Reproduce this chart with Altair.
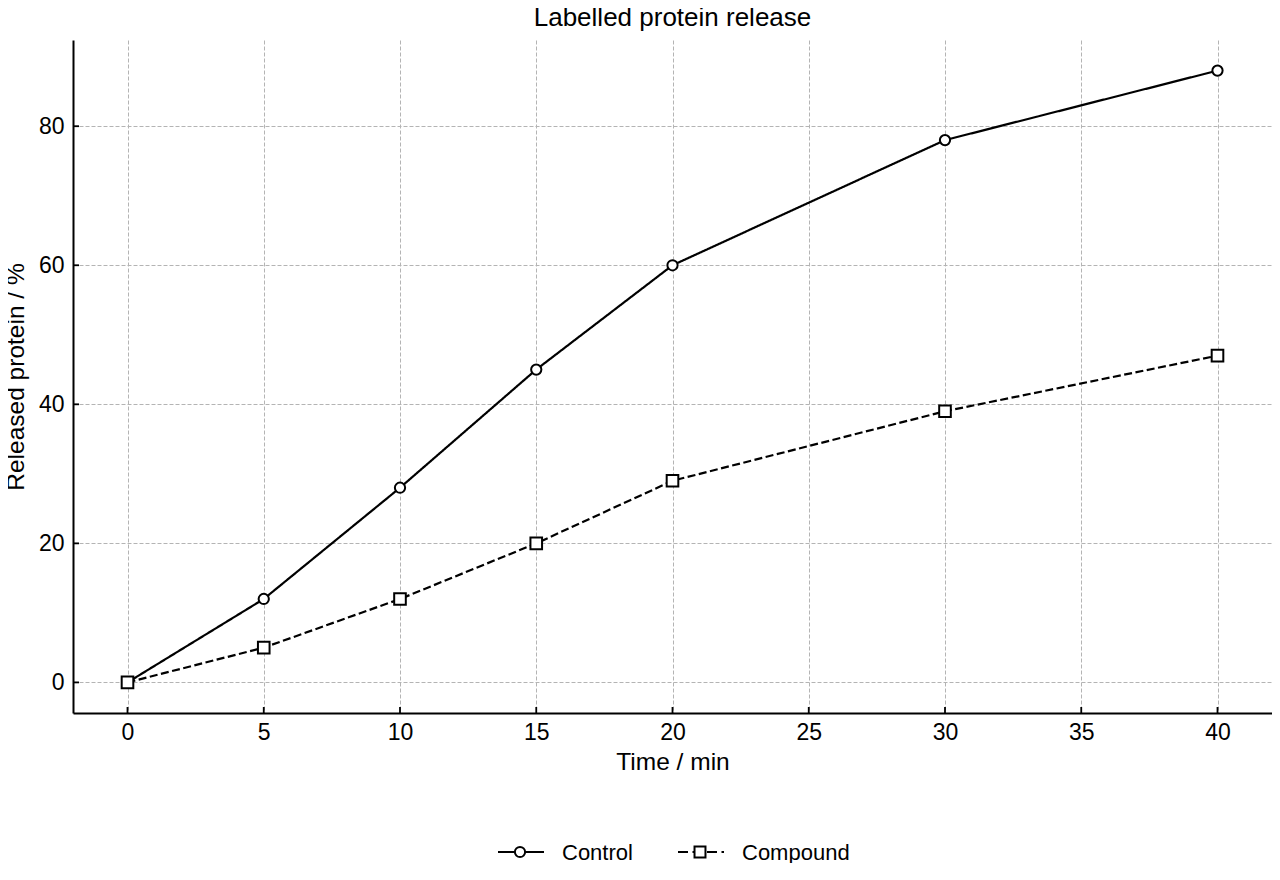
import altair as alt
import pandas as pd

# values
time_min = [0, 5, 10, 15, 20, 30, 40]
control = [0, 12, 28, 45, 60, 78, 88]
compound = [0, 5, 12, 20, 29, 39, 47]
series_names = ["Control", "Compound"]
series_shapes = ["circle", "square"]
series_dash = [[1, 0], [8, 3.5]]
x_ticks = [0, 5, 10, 15, 20, 25, 30, 35, 40]
y_ticks = [0, 20, 40, 60, 80]
title_text = "Labelled protein release"

FONT = "Liberation Sans"
W, H = 1199, 673

rows = []
for name, vals in zip(series_names, [control, compound]):
    for t, v in zip(time_min, vals):
        rows.append({"time": t, "released": v, "series": name})
data = pd.DataFrame(rows)

x_scale = alt.Scale(domain=[-2, 42], nice=False, zero=False)
y_scale = alt.Scale(domain=[-4.4, 92.4], nice=False, zero=False)
marker_size = alt.Scale(domain=series_names, range=[105, 135])

x_axis = alt.Axis(
    values=x_ticks,
    title="Time / min",
    tickSize=0,
    labelPadding=8,
    labelFlush=False,
    titleY=56,
    titleBaseline="alphabetic",
)
y_axis = alt.Axis(
    values=y_ticks,
    title="Released protein / %",
    tickSize=0,
    labelPadding=9,
    labelFlush=False,
    titleX=-50,
    titleY=H / 2,
    titleBaseline="alphabetic",
)

lines = (
    alt.Chart(data)
    .mark_line(color="black", strokeWidth=2.2)
    .encode(
        x=alt.X("time:Q", scale=x_scale, axis=x_axis),
        y=alt.Y("released:Q", scale=y_scale, axis=y_axis),
        detail="series:N",
        strokeDash=alt.StrokeDash(
            "series:N",
            scale=alt.Scale(domain=series_names, range=series_dash),
            legend=None,
        ),
    )
)

points = (
    alt.Chart(data)
    .mark_point(filled=True, fill="white", stroke="black", strokeWidth=2, opacity=1)
    .encode(
        x=alt.X("time:Q", scale=x_scale),
        y=alt.Y("released:Q", scale=y_scale),
        shape=alt.Shape(
            "series:N",
            scale=alt.Scale(domain=series_names, range=series_shapes),
            legend=None,
        ),
        size=alt.Size("series:N", scale=marker_size, legend=None),
    )
)

# inward tick marks
x_tick_marks = (
    alt.Chart(pd.DataFrame({"time": x_ticks}))
    .mark_rule(color="black", strokeWidth=1.8)
    .encode(x=alt.X("time:Q", scale=x_scale), y=alt.value(H), y2=alt.value(H - 6))
)
y_tick_marks = (
    alt.Chart(pd.DataFrame({"released": y_ticks}))
    .mark_rule(color="black", strokeWidth=1.8)
    .encode(y=alt.Y("released:Q", scale=y_scale), x=alt.value(0), x2=alt.value(6))
)

title = (
    alt.Chart(pd.DataFrame({"t": [title_text]}))
    .mark_text(font=FONT, fontSize=26, color="black", align="center", baseline="alphabetic")
    .encode(x=alt.value(W / 2), y=alt.value(-14), text="t:N")
)

# legend below the plot: line sample, marker, label for each series
legend_y = 812
legend_layers = []
entry_x = [425, 605]
for i, name in enumerate(series_names):
    x0 = entry_x[i]
    row = pd.DataFrame({"series": [name]})
    dash = series_dash[i] if i == 0 else [10, 4.5]
    legend_layers.append(
        alt.Chart(row)
        .mark_rule(color="black", strokeWidth=2.2, strokeDash=dash)
        .encode(x=alt.value(x0), x2=alt.value(x0 + 46), y=alt.value(legend_y))
    )
    legend_layers.append(
        alt.Chart(row)
        .mark_point(
            filled=True, fill="white", stroke="black", strokeWidth=2, opacity=1,
            shape=series_shapes[i], size=[105, 120][i],
        )
        .encode(x=alt.value(x0 + 22), y=alt.value(legend_y))
    )
    legend_layers.append(
        alt.Chart(row)
        .mark_text(font=FONT, fontSize=22, color="black", align="left", baseline="middle")
        .encode(x=alt.value(x0 + 64), y=alt.value(legend_y + 1), text="series:N")
    )

chart = (
    alt.layer(lines, points, x_tick_marks, y_tick_marks, title, *legend_layers)
    .properties(
        width=W,
        height=H,
        autosize=alt.AutoSizeParams(type="none"),
        padding={"left": 65, "top": 32, "right": 0, "bottom": 150},
    )
    .configure_view(strokeWidth=0)
    .configure_axis(
        labelFont=FONT,
        labelFontSize=23,
        labelColor="black",
        titleFont=FONT,
        titleFontSize=24.5,
        titleFontWeight="normal",
        titleColor="black",
        domainColor="black",
        domainWidth=2,
        gridColor="#b4b4b4",
        gridWidth=1,
        gridDash=[4, 2],
    )
)

chart.save("out.html", embed_options={"renderer": "svg", "actions": False})
